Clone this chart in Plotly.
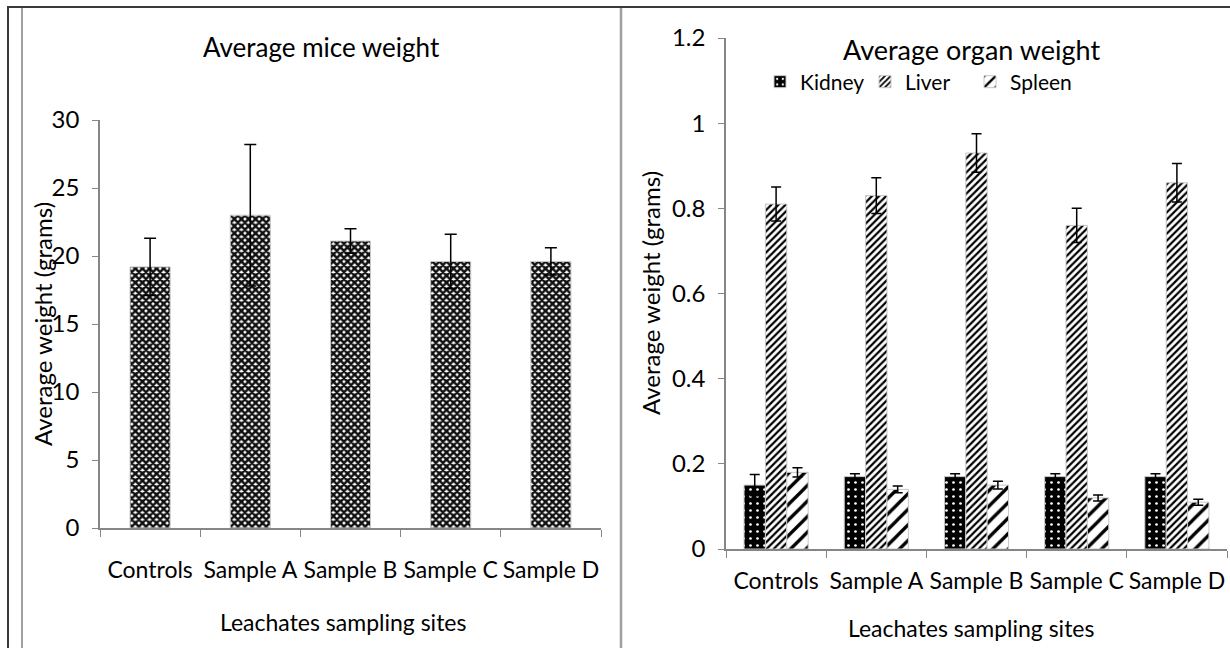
import plotly.graph_objects as go

sites = ["Controls", "Sample A", "Sample B", "Sample C", "Sample D"]

mice_weight = [19.2, 23.0, 21.1, 19.6, 19.6]
mice_err = [2.1, 5.2, 0.9, 2.0, 1.0]

kidney = [0.15, 0.17, 0.17, 0.17, 0.17]
kidney_err = [0.025, 0.007, 0.007, 0.007, 0.007]
liver = [0.81, 0.83, 0.93, 0.76, 0.86]
liver_err = [0.04, 0.042, 0.045, 0.04, 0.045]
spleen = [0.18, 0.14, 0.15, 0.12, 0.11]
spleen_err = [0.011, 0.008, 0.009, 0.007, 0.007]

FONT = "Lato"
W, H = 1230, 648
AX = "#868686"
OUTLINE = "#c8c8c8"

fig = go.Figure()

fig.add_trace(go.Bar(
    x=sites, y=mice_weight, width=0.4, showlegend=False,
    marker=dict(color="black", line=dict(color=OUTLINE, width=1),
                pattern=dict(shape="x", fgcolor="#111111", bgcolor="white",
                             fillmode="replace", size=5, solidity=0.75)),
    error_y=dict(type="data", array=mice_err, color="black", thickness=1.5, width=6),
    xaxis="x", yaxis="y",
))

fig.add_trace(go.Bar(
    x=sites, y=kidney, name="Kidney",
    marker=dict(color="black", line=dict(color=OUTLINE, width=1),
                pattern=dict(shape=".", fgcolor="white", bgcolor="black",
                             fillmode="replace", size=7, solidity=0.12)),
    error_y=dict(type="data", array=kidney_err, color="black", thickness=1.5, width=5),
    xaxis="x2", yaxis="y2",
))
fig.add_trace(go.Bar(
    x=sites, y=liver, name="Liver",
    marker=dict(color="black", line=dict(color=OUTLINE, width=1),
                pattern=dict(shape="/", fgcolor="black", bgcolor="white",
                             fillmode="replace", size=5, solidity=0.45)),
    error_y=dict(type="data", array=liver_err, color="black", thickness=1.5, width=5),
    xaxis="x2", yaxis="y2",
))
fig.add_trace(go.Bar(
    x=sites, y=spleen, name="Spleen",
    marker=dict(color="black", line=dict(color=OUTLINE, width=1),
                pattern=dict(shape="/", fgcolor="black", bgcolor="white",
                             fillmode="replace", size=11, solidity=0.3)),
    error_y=dict(type="data", array=spleen_err, color="black", thickness=1.5, width=5),
    xaxis="x2", yaxis="y2",
))

tickfont = dict(family=FONT, size=23, color="black")

xcommon = dict(type="category", showline=True, linecolor=AX, linewidth=1.5,
               ticks="outside", tickson="boundaries", ticklen=7, tickcolor=AX,
               tickfont=tickfont, tickangle=0, showgrid=False, zeroline=False,
               fixedrange=True, automargin=False)
ycommon = dict(showline=True, linecolor=AX, linewidth=1.5, ticks="outside",
               ticklen=6, tickcolor=AX, tickfont=dict(family=FONT, size=24, color="black"),
               showgrid=False, zeroline=False, fixedrange=True, automargin=False)

fig.update_layout(
    width=W, height=H,
    margin=dict(l=0, r=0, t=0, b=0, autoexpand=False),
    paper_bgcolor="white", plot_bgcolor="white",
    barmode="group", bargap=0.36, bargroupgap=0,
    font=dict(family=FONT, color="black"),
    xaxis=dict(domain=[100 / W, 601 / W], anchor="y", ticklabelstandoff=21, **xcommon),
    yaxis=dict(domain=[1 - 528 / H, 1 - 120 / H], anchor="x", range=[0, 30], dtick=5,
               ticklabelstandoff=8, **ycommon),
    xaxis2=dict(domain=[726 / W, 1227 / W], anchor="y2", ticklabelstandoff=11, **xcommon),
    yaxis2=dict(domain=[1 - 549 / H, 1 - 38 / H], anchor="x2", range=[0, 1.2], dtick=0.2,
                ticklabelstandoff=8, **ycommon),
    legend=dict(orientation="h", x=760 / W, xanchor="left", y=1 - 82 / H, yanchor="middle",
                font=dict(family=FONT, size=21, color="black"), bgcolor="rgba(0,0,0,0)",
                itemwidth=30, entrywidth=60, entrywidthmode="pixels"),
)

annos = [
    dict(text="Average mice weight", x=321 / W, y=1 - 47 / H, size=26),
    dict(text="Average organ weight", x=971 / W, y=1 - 49 / H, size=27),
    dict(text="Leachates sampling sites", x=343 / W, y=1 - 622 / H, size=23),
    dict(text="Leachates sampling sites", x=971 / W, y=1 - 628 / H, size=23),
]
for a in annos:
    fig.add_annotation(text=a["text"], x=a["x"], y=a["y"], xref="paper", yref="paper",
                       showarrow=False, xanchor="center", yanchor="middle",
                       font=dict(family=FONT, size=a["size"], color="black"))
for xx, yy in [(42, 324), (650, 293)]:
    fig.add_annotation(text="Average weight (grams)", x=xx / W, y=1 - yy / H,
                       xref="paper", yref="paper", showarrow=False, textangle=-90,
                       xanchor="center", yanchor="middle",
                       font=dict(family=FONT, size=24, color="black"))

# frame lines
shapes = [
    dict(type="line", x0=7 / W, x1=1.0, y0=1 - 7 / H, y1=1 - 7 / H, line=dict(color="#3a3a3a", width=2)),
    dict(type="line", x0=8 / W, x1=8 / W, y0=0, y1=1 - 7 / H, line=dict(color="#3a3a3a", width=2)),
    dict(type="line", x0=22 / W, x1=22 / W, y0=0, y1=1 - 8 / H, line=dict(color="#a0a0a0", width=2)),
    dict(type="line", x0=621 / W, x1=621 / W, y0=0, y1=1 - 8 / H, line=dict(color="#a0a0a0", width=2.5)),
]
for s in shapes:
    fig.add_shape(xref="paper", yref="paper", layer="above", **s)

fig.write_html("out.html")
